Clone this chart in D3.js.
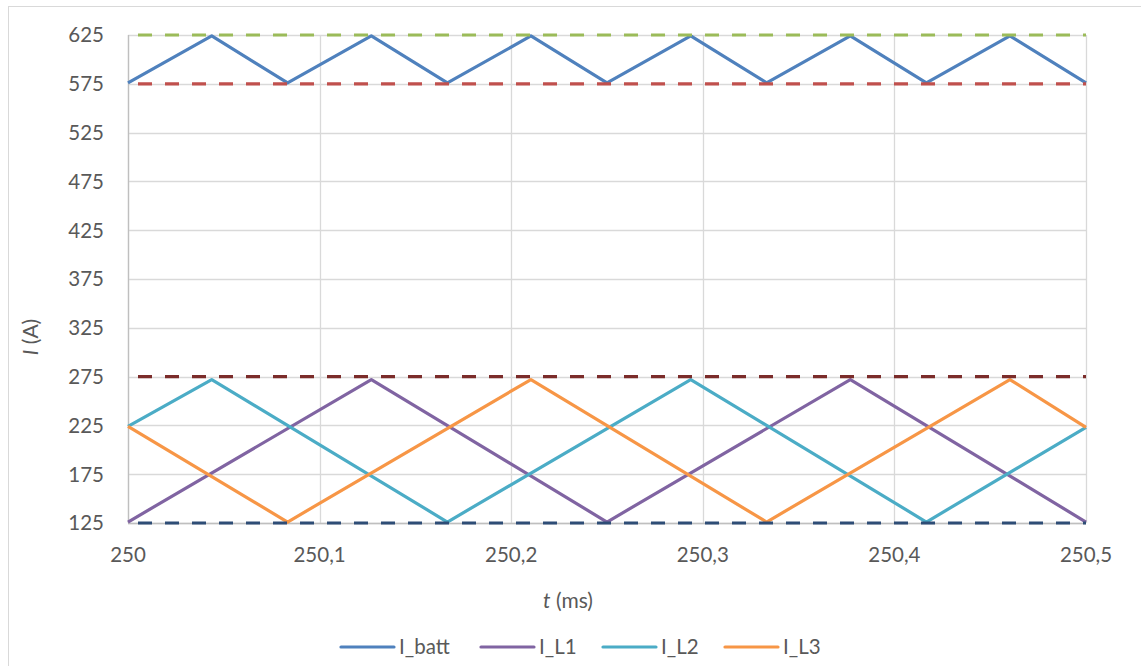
<!DOCTYPE html>
<html>
<head>
<meta charset="utf-8">
<script src="https://cdn.jsdelivr.net/npm/d3@7"></script>
<style>
  html, body { margin: 0; padding: 0; background: #fff; }
  svg text { font-family: Lato, "Open Sans", sans-serif; fill: #595959; }
</style>
</head>
<body>
<svg id="chart" width="1141" height="666"></svg>
<script>
// Time axis ticks (ms) and current axis ticks (A)
const tTicks = [250, 250.1, 250.2, 250.3, 250.4, 250.5];
const iTicks = [125, 175, 225, 275, 325, 375, 425, 475, 525, 575, 625];

// Battery current vertices
const battT = [250, 250.0437, 250.0833, 250.127, 250.1667, 250.2103, 250.25, 250.2937, 250.3333, 250.377, 250.4167, 250.4603, 250.5];
const battI = [576, 624, 576, 624, 576, 624, 576, 624, 576, 624, 576, 624, 576];

// Phase inductor currents
const l1T = [250, 250.127, 250.25, 250.377, 250.5];
const l1I = [126, 272, 126, 272, 126];
const l2T = [250, 250.0437, 250.1667, 250.2937, 250.4167, 250.5];
const l2I = [224, 272, 126, 272, 126, 223];
const l3T = [250, 250.0833, 250.2103, 250.3333, 250.4603, 250.5];
const l3I = [224, 126, 272, 126, 272, 223];

// Ripple limit levels
const limitLevels = [625, 575, 275, 125];
const limitColors = ["#9BBB59", "#C0504D", "#7B2C2A", "#2E4D76"];

const seriesNames = ["I_batt", "I_L1", "I_L2", "I_L3"];
const seriesColors = ["#4F81BD", "#8064A2", "#4BACC6", "#F79646"];

const svg = d3.select("#chart");
const plotL = 128, plotR = 1086, plotT = 35, plotB = 523;

const x = d3.scaleLinear().domain([250, 250.5]).range([plotL, plotR]);
const y = d3.scaleLinear().domain([125, 625]).range([plotB, plotT]);

// outer chart border
svg.append("rect")
  .attr("x", 8.5).attr("y", 6.5).attr("width", 1140).attr("height", 670)
  .attr("fill", "none").attr("stroke", "#D9D9D9").attr("stroke-width", 1);

// gridlines
svg.append("g").selectAll("line").data(iTicks).join("line")
  .attr("x1", plotL).attr("x2", plotR)
  .attr("y1", d => Math.round(y(d)) + 0.5).attr("y2", d => Math.round(y(d)) + 0.5)
  .attr("stroke", "#D9D9D9").attr("stroke-width", 1.3);
svg.append("g").selectAll("line").data(tTicks).join("line")
  .attr("x1", d => Math.round(x(d)) + 0.5).attr("x2", d => Math.round(x(d)) + 0.5)
  .attr("y1", plotT).attr("y2", plotB)
  .attr("stroke", "#D9D9D9").attr("stroke-width", 1.3);

// axis lines
svg.append("line").attr("x1", plotL + 0.5).attr("x2", plotL + 0.5).attr("y1", plotT).attr("y2", plotB)
  .attr("stroke", "#BFBFBF").attr("stroke-width", 1.3);
svg.append("line").attr("x1", plotL).attr("x2", plotR).attr("y1", plotB + 0.5).attr("y2", plotB + 0.5)
  .attr("stroke", "#BFBFBF").attr("stroke-width", 1.3);

// tick labels
const fmtT = d => d3.format(".1f")(d).replace(".", ",").replace(/,0$/, "");
svg.append("g").selectAll("text").data(iTicks).join("text")
  .attr("x", 104).attr("y", d => y(d)).attr("dy", "0.36em")
  .attr("text-anchor", "end").attr("font-size", 20.5)
  .text(d => d);
svg.append("g").selectAll("text").data(tTicks).join("text")
  .attr("x", d => x(d)).attr("y", 562)
  .attr("text-anchor", "middle").attr("font-size", 20.5)
  .text(fmtT);

// axis titles
const xt = svg.append("text").attr("x", 568).attr("y", 608)
  .attr("text-anchor", "middle").attr("font-size", 21);
xt.append("tspan").attr("font-style", "italic").text("t");
xt.append("tspan").text(" (ms)");

const yt = svg.append("text")
  .attr("transform", "translate(38,337) rotate(-90)")
  .attr("text-anchor", "middle").attr("font-size", 21);
yt.append("tspan").attr("font-style", "italic").text("I");
yt.append("tspan").text(" (A)");

const line = d3.line().x(d => x(d[0])).y(d => y(d[1]));

// current waveforms
const series = [
  d3.zip(battT, battI),
  d3.zip(l1T, l1I),
  d3.zip(l2T, l2I),
  d3.zip(l3T, l3I)
];
svg.append("g").selectAll("path").data(series).join("path")
  .attr("d", line)
  .attr("fill", "none")
  .attr("stroke", (d, i) => seriesColors[i])
  .attr("stroke-width", 3.2)
  .attr("stroke-linejoin", "round");

// dashed limit levels
svg.append("g").selectAll("path").data(limitLevels).join("path")
  .attr("d", d => line([[250, d], [250.5, d]]))
  .attr("fill", "none")
  .attr("stroke", (d, i) => limitColors[i])
  .attr("stroke-width", 3.2)
  .attr("stroke-dasharray", "14,13")
  .attr("stroke-dashoffset", 17);

// legend
const legendX = [340, 480, 602, 724];
const lg = svg.append("g").selectAll("g").data(seriesNames).join("g")
  .attr("transform", (d, i) => `translate(${legendX[i]},647)`);
lg.append("line").attr("x1", 1).attr("x2", 54).attr("y1", 0).attr("y2", 0)
  .attr("stroke", (d, i) => seriesColors[i]).attr("stroke-width", 3.2)
  .attr("stroke-linecap", "round");
lg.append("text").attr("x", 59).attr("y", 0).attr("dy", "0.36em")
  .attr("font-size", 20.5).text(d => d);
</script>
</body>
</html>
